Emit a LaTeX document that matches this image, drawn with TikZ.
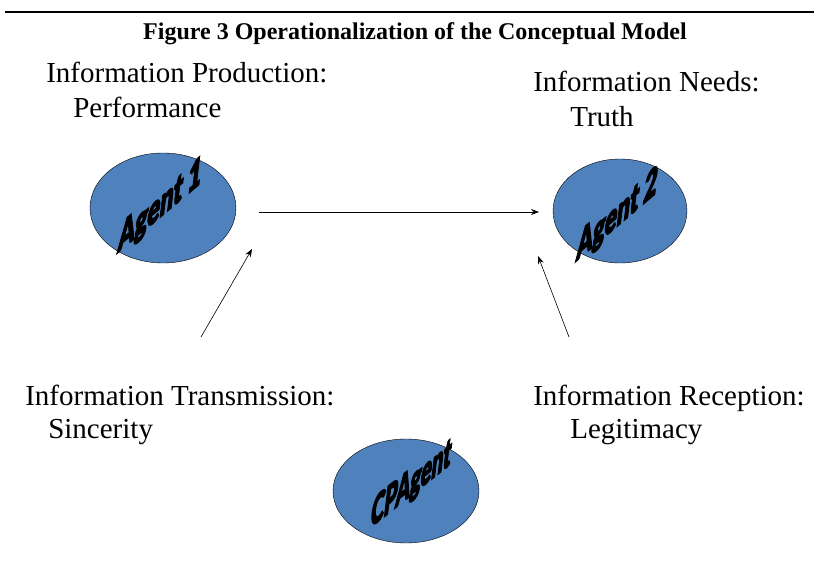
\documentclass[tikz,border=0pt]{standalone}
\usepackage{fontspec}
\setmainfont{Liberation Serif}
\newfontfamily\artfont{Lato Black}[FakeBold=4]
\usepackage{tikz}
\usetikzlibrary{arrows.meta,positioning,shapes.geometric}
\definecolor{agentblue}{RGB}{79,129,189}
\tikzstyle{agent}=[ellipse,draw=black,thin,fill=agentblue,inner sep=0pt]
\tikzstyle{agentname}=[font=\artfont\fontsize{42}{42}\selectfont,inner sep=0pt]
\tikzstyle{caption}=[font=\fontsize{29}{34}\selectfont,anchor=base west,inner sep=0pt]
\tikzstyle{title}=[font=\bfseries\fontsize{24}{24}\selectfont,anchor=base,inner sep=0pt]

\begin{document}
\begin{tikzpicture}[x=1pt,y=-1pt,->,>={Stealth[length=8pt,width=6pt]},semithick]

    \useasboundingbox (0,0) rectangle (814,569);
    \draw[-,line width=2pt] (5,12) -- (814,12);
    \node[title] (T) at (415,40) {Figure 3 Operationalization of the Conceptual Model};

    \node[agent, minimum width=146pt, minimum height=110pt] (A1) at (163,208) {};
    \node[agent, minimum width=134pt, minimum height=104pt] (A2) at (620,211) {};
    \node[agent, minimum width=146pt, minimum height=104pt] (CP) at (406,491) {};
    % slanted word art: baseline at 40 degrees, upright strokes leaning right
    \node[agentname, cm={0.56,0.47,0.12,1,(0,0)}] (A1n) at (160,207) {Agent 1};
    \node[agentname, cm={0.54,0.46,0.12,1,(0,0)}] (A2n) at (617,216) {Agent 2};
    \node[agentname, cm={0.48,0.38,0.12,1,(0,0)}] (CPn) at (411,485) {CPAgent};

    \node[caption] (P1) at (46,83) {Information Production:};
    \node[caption] (P2) at (73,118) {Performance};
    \node[caption] (N1) at (533,92) {Information Needs:};
    \node[caption] (N2) at (570,127) {Truth};
    \node[caption] (S1) at (25,405) {Information Transmission:};
    \node[caption] (S2) at (48,438) {Sincerity};
    \node[caption] (R1) at (533,405) {Information Reception:};
    \node[caption] (R2) at (570,438) {Legitimacy};

    \coordinate (H1) at (259,212);
    \coordinate (H2) at (539,212);
    \coordinate (S0) at (201,337);
    \coordinate (S3) at (252,249);
    \coordinate (R0) at (569,337);
    \coordinate (R3) at (538,256);
    \path
        (H1) edge (H2)
        (S0) edge (S3)
        (R0) edge (R3);
\end{tikzpicture}
\end{document}
